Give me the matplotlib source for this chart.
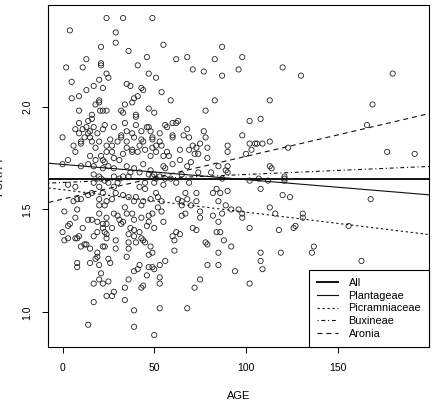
import matplotlib
matplotlib.use('Agg')
import matplotlib.pyplot as plt

plt.rcParams['font.family'] = ['Liberation Sans', 'DejaVu Sans']

# points (AGE, PURITY)
age = [24, 33, 49, 4, 29, 29, 55, 87, 21, 36, 13, 46, 62, 68, 83, 98, 21, 21, 2, 11,
       41, 71, 77, 96, 120, 130, 180, 24, 47, 25, 51, 87, 20, 5, 35, 37, 17, 13, 22, 43,
       44, 54, 9, 5, 41, 39, 59, 83, 113, 169, 20, 20, 34, 38, 18,
       9, 32, 20.5, 22, 24, 47, 78, 33, 50, 40, 40, 16, 16, 108, 102, 63, 62, 14, 9, 34,
       23, 60, 56, 40, 166, 7, 13, 17, 28, 46, 47, 57, 68, 77, 11, 22, 15, 35, 43, 48,
       53, 9, 14, 19, 38, 32, 60, 66, 98, 0, 12, 15, 26, 32, 39, 49, 60, 69, 78, 43,
       16, 20, 10, 10, 30, 35, 44, 49, 53, 102, 105, 106, 109, 113, 75, 6, 24, 27, 42, 51,
       54, 71, 90, 73, 79, 103, 123, 18, 35, 49, 38, 45, 64, 69, 90, 177, 192, 7, 24, 27,
       38, 41, 51, 57, 72, 100, 15, 21, 33, 55, 58, 74, 79, 28, 31, 48, 18, 3, 22, 23,
       64, 70, 0, 10, 14, 17, 25, 35, 44, 60, 55, 68, 85, 90, 113, 114, 89, 90, 81, 22,
       28, 39, 48, 56, 42, 37, 47, 50, 65, 74, 121, 121, 121, 107, 112, 102, 87, 20, 17, 28,
       31, 33, 36, 49, 51, 53, 56, 59, 21, 23, 25, 17, 30, 45, 50, 62, 69, 3, 7, 20,
       28, 42, 45, 55, 84, 90, 108, 120, 124, 82, 86, 73, 67, 14, 16, 22, 29, 33, 36, 40,
       51, 52, 48, 8, 10, 6, 20, 24, 27, 39, 44, 54, 63, 65, 68, 73, 85, 70, 65, 89,
       113, 168, 156, 20, 23, 34, 43, 52,
       1, 8, 20, 28, 30, 35, 38, 49, 47, 54, 65, 67, 75, 87, 92, 96, 98, 98, 116, 131,
       131, 82, 75, 7, 14, 16, 24, 31, 39, 43, 47, 55, 85, 4, 3, 19, 22, 24, 32, 33,
       46, 127, 126, 71, 73, 50, 102, 118, 11, 27, 37, 22, 0, 19, 23, 39, 42, 62, 64, 84,
       86, 24, 9, 36, 60, 43, 44, 3, 1, 7, 8, 17, 24, 39, 61, 29, 36, 40, 45, 78,
       88, 12, 13, 10, 22, 23, 29, 15, 36, 48, 79, 92, 137, 61, 49, 19, 136, 108, 85, 119,
       47, 19, 35, 25, 18, 108, 163, 8, 26, 15, 56, 8, 20, 42, 47, 49, 53, 79, 85, 109,
       94, 39, 50, 41, 21, 46, 53, 75, 36, 20, 25, 17, 22, 53, 102, 44, 43, 34, 72, 28,
       24, 27, 34, 17, 53, 68, 39, 14, 39, 50]
purity = [2.43, 2.43, 2.43, 2.37, 2.36, 2.31, 2.30, 2.29, 2.29, 2.27, 2.23, 2.24, 2.23, 2.24, 2.23, 2.24, 2.21, 2.20, 2.19, 2.19,
          2.20, 2.18, 2.17, 2.18, 2.19, 2.15, 2.16, 2.16, 2.16, 2.14, 2.14, 2.15, 2.13, 2.12, 2.11, 2.10, 2.10, 2.08, 2.09, 2.09,
          2.08, 2.07, 2.05, 2.04, 2.05, 2.04, 2.03, 2.03, 2.03, 2.01, 2.03, 2.02, 2.01, 2.02, 2.01,
          1.98, 1.98, 1.98, 1.98, 1.98, 1.99, 1.98, 1.97, 1.97, 1.96, 1.95, 1.96, 1.94, 1.94, 1.93, 1.93, 1.92, 1.93, 1.92, 1.92,
          1.91, 1.92, 1.91, 1.91, 1.91, 1.89, 1.90, 1.90, 1.90, 1.90, 1.90, 1.90, 1.89, 1.88, 1.89, 1.89, 1.88, 1.88, 1.88, 1.88,
          1.87, 1.87, 1.87, 1.87, 1.87, 1.86, 1.86, 1.86, 1.86, 1.85, 1.85, 1.85, 1.84, 1.85, 1.85, 1.85, 1.85, 1.85, 1.85, 1.84,
          1.83, 1.83, 1.83, 1.82, 1.83, 1.83, 1.83, 1.84, 1.83, 1.82, 1.82, 1.82, 1.82, 1.83, 1.82, 1.81, 1.81, 1.81, 1.81, 1.81,
          1.81, 1.81, 1.81, 1.80, 1.80, 1.79, 1.80, 1.80, 1.80, 1.80, 1.79, 1.79, 1.79, 1.79, 1.78, 1.78, 1.77, 1.78, 1.78, 1.78,
          1.78, 1.78, 1.78, 1.78, 1.77, 1.77, 1.76, 1.76, 1.77, 1.76, 1.76, 1.77, 1.75, 1.75, 1.74, 1.76, 1.74, 1.74, 1.74, 1.73,
          1.74, 1.73, 1.72, 1.71, 1.72, 1.71, 1.71, 1.71, 1.72, 1.72, 1.71, 1.71, 1.71, 1.71, 1.71, 1.70, 1.69, 1.68, 1.68, 1.70,
          1.70, 1.70, 1.69, 1.70, 1.68, 1.68, 1.67, 1.67, 1.67, 1.68, 1.66, 1.65, 1.64, 1.65, 1.64, 1.64, 1.65, 1.66, 1.67, 1.66,
          1.65, 1.66, 1.66, 1.66, 1.65, 1.66, 1.65, 1.65, 1.65, 1.64, 1.63, 1.63, 1.63, 1.63, 1.63, 1.63, 1.63, 1.62, 1.61, 1.61,
          1.61, 1.61, 1.60, 1.62, 1.60, 1.59, 1.60, 1.57, 1.56, 1.58, 1.58, 1.58, 1.58, 1.57, 1.58, 1.58, 1.58, 1.57, 1.56, 1.56,
          1.58, 1.56, 1.55, 1.55, 1.55, 1.54, 1.55, 1.54, 1.55, 1.54, 1.54, 1.54, 1.55, 1.54, 1.55, 1.54, 1.54, 1.52, 1.52, 1.52,
          1.51, 1.55, 1.42, 1.52, 1.52, 1.51, 1.52, 1.51,
          1.49, 1.50, 1.48, 1.48, 1.47, 1.48, 1.48, 1.48, 1.47, 1.49, 1.47, 1.48, 1.49, 1.48, 1.50, 1.50, 1.48, 1.46, 1.48, 1.48,
          1.46, 1.47, 1.46, 1.46, 1.45, 1.45, 1.46, 1.45, 1.45, 1.46, 1.44, 1.44, 1.44, 1.43, 1.42, 1.44, 1.43, 1.43, 1.43, 1.44,
          1.42, 1.42, 1.41, 1.41, 1.40, 1.41, 1.41, 1.40, 1.41, 1.41, 1.41, 1.41, 1.39, 1.39, 1.39, 1.40, 1.39, 1.39, 1.38, 1.39,
          1.39, 1.38, 1.37, 1.38, 1.37, 1.36, 1.35, 1.36, 1.35, 1.36, 1.36, 1.37, 1.36, 1.37, 1.35, 1.35, 1.34, 1.34, 1.34, 1.34,
          1.35, 1.33, 1.33, 1.32, 1.32, 1.32, 1.31, 1.31, 1.31, 1.32, 1.33, 1.32, 1.32, 1.30, 1.29, 1.29, 1.29, 1.29, 1.29, 1.29,
          1.28, 1.27, 1.27, 1.26, 1.26, 1.25, 1.25, 1.24, 1.24, 1.24, 1.25, 1.22, 1.23, 1.23, 1.22, 1.22, 1.23, 1.23, 1.23, 1.21,
          1.20, 1.20, 1.21, 1.21, 1.19, 1.18, 1.17, 1.16, 1.16, 1.16, 1.15, 1.14, 1.14, 1.14, 1.14, 1.13, 1.12, 1.12, 1.12, 1.10,
          1.08, 1.08, 1.06, 1.05, 1.02, 1.02, 1.01, 0.94, 0.93, 0.89]

# fitted lines: (label, intercept, slope)
fit_names = ['All', 'Plantageae', 'Picramniaceae', 'Buxineae', 'Aronia']
fit_intercepts = [1.65, 1.719, 1.596, 1.631, 1.550]
fit_slopes = [0.0, -0.00074, -0.00109, 0.00039, 0.00208]

styles = [
    dict(lw=1.4, ls='-'),
    dict(lw=0.8, ls='-'),
    dict(lw=0.8, ls=(0, (2, 2.5))),
    dict(lw=0.8, ls=(0, (1, 2.5, 3.5, 2.5))),
    dict(lw=0.8, ls=(0, (4.5, 3.5))),
]

fig = plt.figure(figsize=(4.44, 4.03), dpi=100)
ax = fig.add_axes([0.109, 0.139, 0.858, 0.849])

ax.scatter(age, purity, s=14, facecolors='none', edgecolors='#222222', linewidths=0.6, zorder=2)

for name, b0, b1, st in zip(fit_names, fit_intercepts, fit_slopes, styles):
    ax.axline((0, b0), slope=b1, color='#111111', label=name, zorder=3, **st)

ax.set_xlim(-7.7, 200)
ax.set_ylim(0.832, 2.494)
ax.set_xticks([0, 50, 100, 150])
ax.set_yticks([1.0, 1.5, 2.0])
ax.set_yticklabels(['1.0', '1.5', '2.0'], rotation=90, va='center')
ax.tick_params(direction='out', length=4.5, width=0.7, labelsize=7.5, pad=7)
for sp in ax.spines.values():
    sp.set_linewidth(0.8)
ax.set_xlabel('AGE', fontsize=8, labelpad=13)
ax.set_ylabel('PURITY', fontsize=8, labelpad=13)

leg = ax.legend(loc='lower right', borderaxespad=0, fancybox=False, fontsize=7.8,
                handlelength=1.9, handletextpad=1.0, labelspacing=0.25,
                borderpad=0.75, framealpha=1)
leg.get_frame().set_edgecolor('black')
leg.get_frame().set_linewidth(0.8)

fig.savefig('out.png', dpi=100)
